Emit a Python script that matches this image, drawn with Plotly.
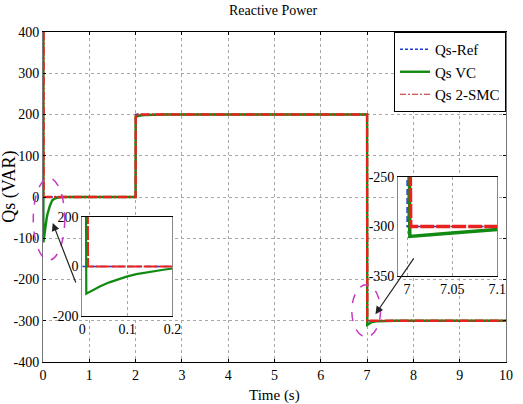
import plotly.graph_objects as go

# ---------------- data ----------------
ref_t = [0, 2, 2, 7, 7, 10]
ref_v = [0, 0, 200, 200, -300, -300]

vc_t = [0, 0.008, 0.009, 0.015, 0.025, 0.04, 0.06, 0.08, 0.1, 0.12, 0.15, 0.18, 0.2, 0.25, 0.3, 0.4,
        2.0, 2.003, 2.02, 2.05, 2.1, 2.2, 2.4, 2.6,
        7.0, 7.003, 7.02, 7.05, 7.1, 7.2, 7.4, 7.6, 10]
vc_v = [400, 400, -110, -104, -93, -80, -64, -51, -40, -31, -21, -13, -8, -4, -2, 0,
        0, 195, 195.5, 196.5, 197.5, 198.5, 199.5, 200,
        200, -310, -309, -306.5, -303, -301.5, -300.5, -300, -300]

smc_t = [0, 0.012, 0.013, 2.0, 2.003, 7.0, 7.004, 10]
smc_v = [400, 400, 0, 0, 200, 200, -300, -300]

x_ticks = list(range(0, 11))
y_ticks = list(range(-400, 401, 100))
in1_xticks = [0, 0.1, 0.2]
in1_yticks = [-200, 0, 200]
in2_xticks = [7, 7.05, 7.1]
in2_yticks = [-350, -300, -250]


def lab(v):
    return "%g" % v  # plain hyphen-minus


# ---------------- layout geometry ----------------
W, H = 523, 404
ML, MR, MT, MB = 43, 8, 32, 42
XR = [0, 10]
YR = [-400, 400]


def px(xv):
    return (xv - XR[0]) / (XR[1] - XR[0])


def py(yv):
    return (yv - YR[0]) / (YR[1] - YR[0])


FONT = "Liberation Serif"
BLUE = "#1f3fd0"
GREEN = "#118a11"
RED = "#e8221e"

fig = go.Figure()

series = [
    ("Qs-Ref", ref_t, ref_v, dict(color=BLUE, width=1.5, dash="4px,2px")),
    ("Qs VC", vc_t, vc_v, dict(color=GREEN, width=2.4, dash="solid")),
    ("Qs 2-SMC", smc_t, smc_v, dict(color=RED, width=2.4, dash="9px,2px,2px,2px")),
]

for name, t, v, ln in series:
    fig.add_trace(go.Scatter(x=t, y=v, mode="lines", name=name, line=ln,
                             xaxis="x", yaxis="y", showlegend=False))

# legend-only entries (thinner, as in the reference legend)
legend_lines = [
    ("Qs-Ref", dict(color=BLUE, width=1.5, dash="3px,2px")),
    ("Qs VC", dict(color=GREEN, width=2.4, dash="solid")),
    ("Qs 2-SMC", dict(color="#c0201c", width=1, dash="6px,2px,2px,2px")),
]
for name, ln in legend_lines:
    fig.add_trace(go.Scatter(x=[None], y=[None], mode="lines", name=name, line=ln,
                             xaxis="x", yaxis="y", showlegend=True))

# inset traces
inset_style = {
    "x2": {"Qs-Ref": (1.5, "6px,3px"), "Qs VC": (2.2, "solid"), "Qs 2-SMC": (2.0, "14px,2px")},
    "x3": {"Qs-Ref": (1.5, "6px,3px"), "Qs VC": (3.5, "solid"), "Qs 2-SMC": (3.5, "14px,2px")},
}
for xa, ya in [("x2", "y2"), ("x3", "y3")]:
    for name, t, v, ln in series:
        l2 = dict(ln)
        l2["width"], l2["dash"] = inset_style[xa][name]
        fig.add_trace(go.Scatter(x=t, y=v, mode="lines", name=name, line=l2,
                                 xaxis=xa, yaxis=ya, showlegend=False))

axis_common = dict(
    showgrid=True, gridcolor="#a8a8a8", griddash="dot", gridwidth=1,
    zeroline=False, ticks="inside", ticklen=3, tickcolor="black",
    mirror="ticks", showline=True, linecolor="black", linewidth=1,
    tickfont=dict(family=FONT, size=14, color="black"),
)

# inset domains (paper coords)
in1_x = [(83 - ML) / (W - ML - MR), (175 - ML) / (W - ML - MR)]
in1_y = [(H - MB - 316) / (H - MT - MB), (H - MB - 217) / (H - MT - MB)]
in2_x = [(405 - ML) / (W - ML - MR), (506 - ML) / (W - ML - MR)]
in2_y = [(H - MB - 276) / (H - MT - MB), (H - MB - 177) / (H - MT - MB)]

fig.update_layout(
    width=W, height=H,
    margin=dict(l=ML, r=MR, t=MT, b=MB, pad=0),
    paper_bgcolor="white", plot_bgcolor="white",
    font=dict(family=FONT, size=14, color="black"),
    xaxis=dict(axis_common, range=XR, tickvals=x_ticks,
               ticktext=[lab(v) for v in x_ticks], domain=[0, 1], anchor="y"),
    yaxis=dict(axis_common, range=YR, tickvals=y_ticks,
               ticktext=[lab(v) for v in y_ticks], domain=[0, 1], anchor="x",
               linecolor="#777"),
    xaxis2=dict(axis_common, range=[0, 0.2], tickvals=in1_xticks,
                ticktext=["0", "0.1", "0.2"], domain=in1_x, anchor="y2", ticks=""),
    yaxis2=dict(axis_common, range=[-200, 200], tickvals=in1_yticks,
                ticktext=[lab(v) for v in in1_yticks], domain=in1_y,
                anchor="x2", ticks="", linecolor="#888", showgrid=False),
    xaxis3=dict(axis_common, range=[6.99, 7.1], tickvals=in2_xticks,
                ticktext=["7", "7.05", "7.1"], domain=in2_x, anchor="y3", ticks=""),
    yaxis3=dict(axis_common, range=[-350, -250], tickvals=in2_yticks,
                ticktext=[lab(v) for v in in2_yticks], domain=in2_y,
                anchor="x3", ticks="", linecolor="#888", showgrid=False),
    showlegend=True,
    legend=dict(x=1, y=1, xanchor="right", yanchor="top",
                bgcolor="white", bordercolor="black", borderwidth=1,
                font=dict(family=FONT, size=15, color="black"),
                itemwidth=30, tracegroupgap=0),
)

# title and axis labels
fig.add_annotation(text="Reactive Power", xref="paper", yref="paper",
                   x=(278 - ML) / (W - ML - MR), y=1 + (MT - 11) / (H - MT - MB),
                   showarrow=False, font=dict(family=FONT, size=14, color="black"),
                   xanchor="center", yanchor="middle")
fig.add_annotation(text="Time (s)", xref="paper", yref="paper",
                   x=(279 - ML) / (W - ML - MR), y=-(395 - (H - MB)) / (H - MT - MB),
                   showarrow=False, font=dict(family=FONT, size=15, color="black"),
                   xanchor="center", yanchor="middle")
fig.add_annotation(text="Qs (VAR)", xref="paper", yref="paper",
                   x=-(ML - 8) / (W - ML - MR), y=(H - MB - 187) / (H - MT - MB),
                   showarrow=False, textangle=-90,
                   font=dict(family=FONT, size=18, color="black"),
                   xanchor="center", yanchor="middle")

# dashed ellipses (data coordinates converted to paper)
MAG = "#c43cc4"
for (x0, x1, y0, y1) in [(-0.21, 0.47, -153, 46), (6.67, 7.29, -339, -213)]:
    fig.add_shape(type="circle", xref="paper", yref="paper",
                  x0=px(x0), x1=px(x1), y0=py(y0), y1=py(y1),
                  line=dict(color=MAG, width=1.5, dash="dash"), layer="above")

# arrows
for (hx, hy, tx, ty) in [(0.21, -63, 0.72, -211), (7.18, -284, 8.03, -145)]:
    fig.add_annotation(x=hx, y=hy, ax=tx, ay=ty, xref="x", yref="y",
                       axref="x", ayref="y", showarrow=True, arrowhead=2,
                       arrowsize=1.3, arrowwidth=1.2, arrowcolor="#222", text="")

fig.write_html("out.html")
